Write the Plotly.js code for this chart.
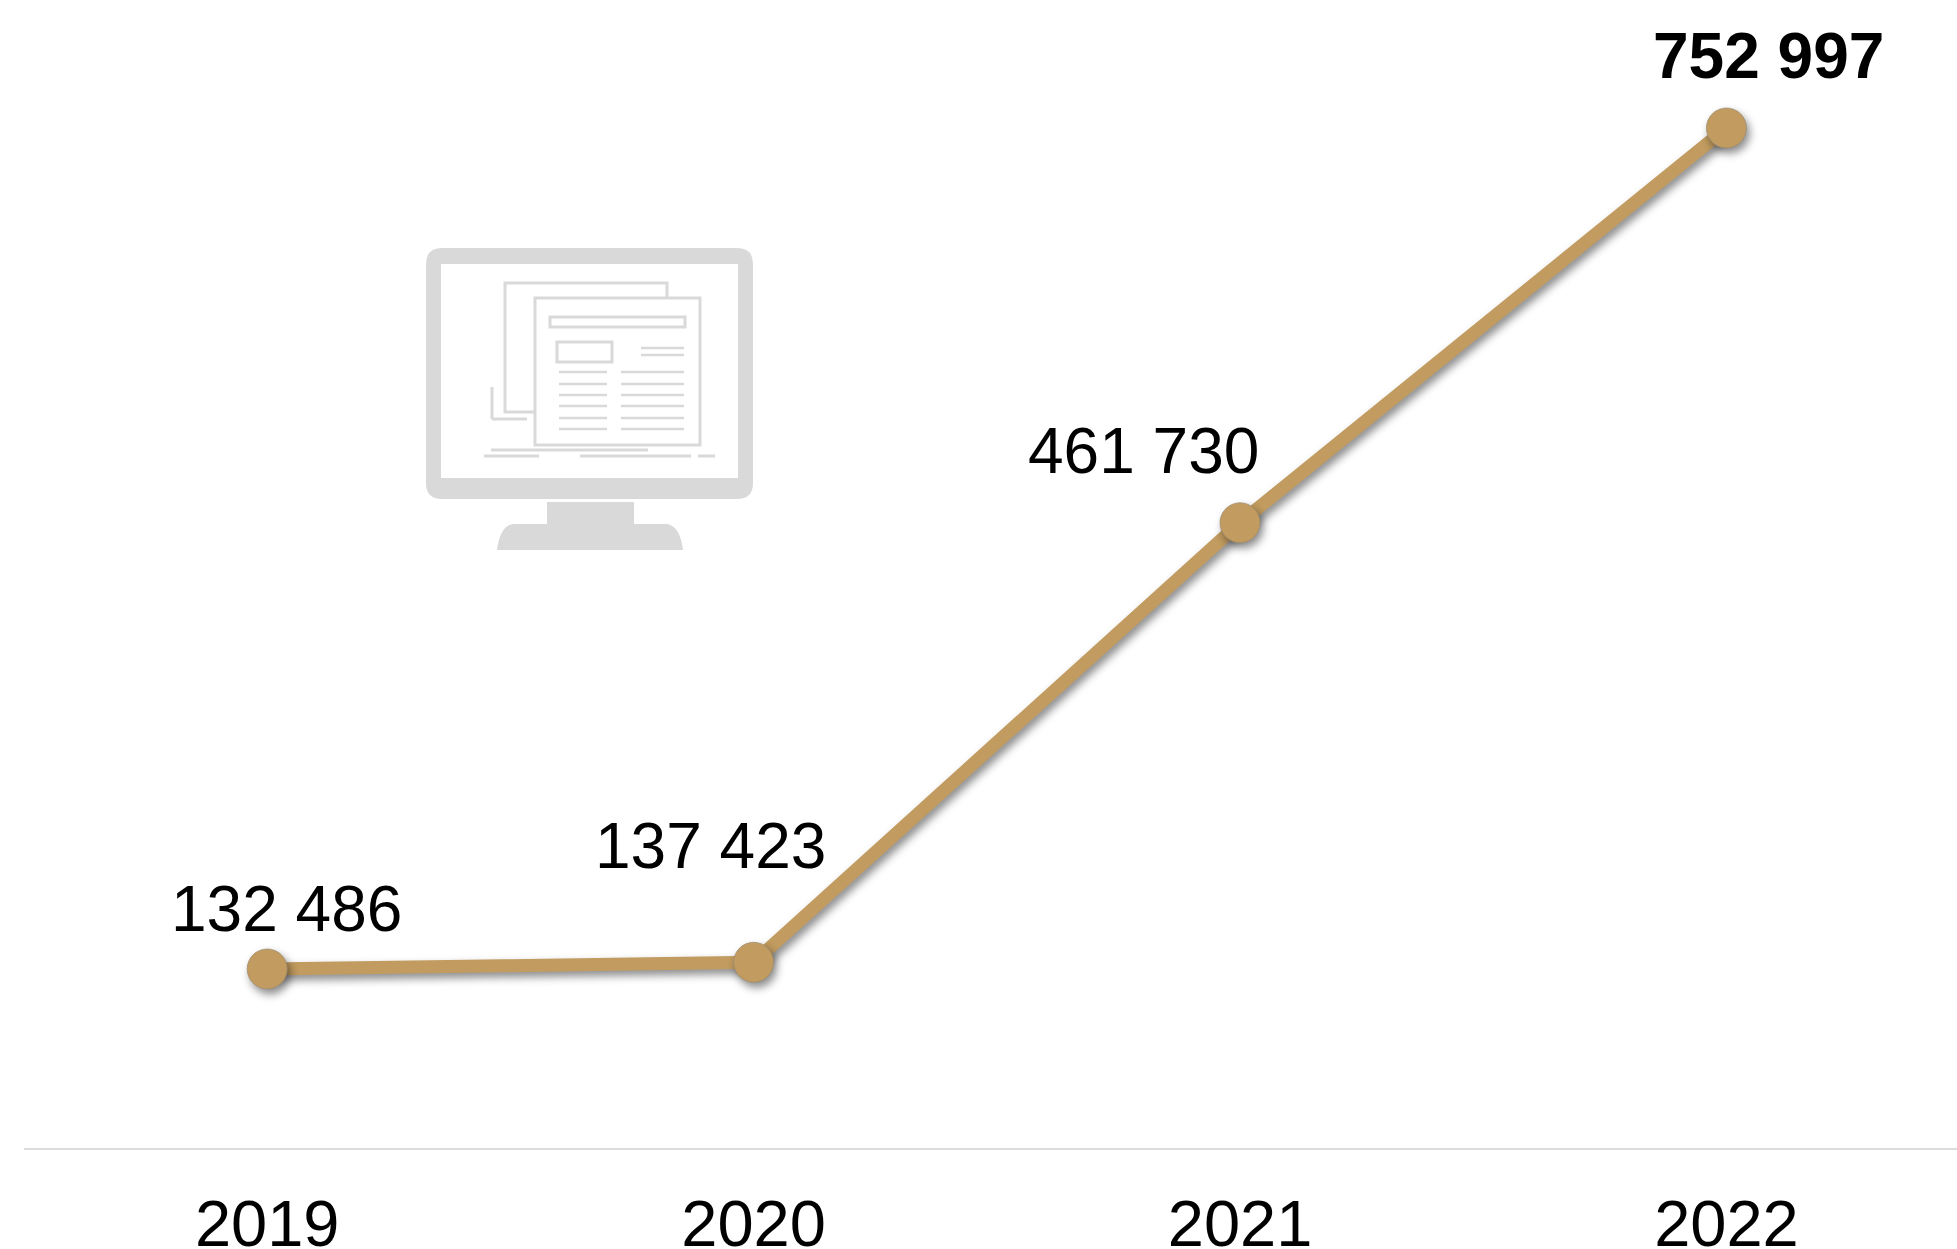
<!DOCTYPE html>
<html>
<head>
<meta charset="utf-8">
<script src="https://cdn.plot.ly/plotly-3.0.1.min.js"></script>
<style>html,body{margin:0;padding:0;background:#fff;overflow:hidden}</style>
</head>
<body>
<div id="chart" style="width:1957px;height:1249px"></div>
<script>
const years = ['2019', '2020', '2021', '2022'];
const visits = [132486, 137423, 461730, 752997];
const labelWeights = ['normal', 'normal', 'normal', 'bold'];
const labelShiftX = [19, -43, -97, 42];
const labelShiftY = [60, 116, 72, 72];

const W = 1957, H = 1249, L = 24, PB = 1148;
const GOLD = '#c19b5f', ICON = '#d9d9d9';
const fmt = v => String(v).replace(/\B(?=(\d{3})+$)/g, ' ');
const px = x => (x - L) / (W - L);
const py = y => 1 - y / PB;

function rect(x0, y0, x1, y1, fill, stroke, lw) {
  return {type:'rect', xref:'paper', yref:'paper', layer:'below',
    x0:px(x0), x1:px(x1), y0:py(y0), y1:py(y1),
    fillcolor:fill, line:{color:stroke||'rgba(0,0,0,0)', width:lw||0}};
}
function seg(x0, y0, x1, y1, lw) {
  return {type:'line', xref:'paper', yref:'paper', layer:'below',
    x0:px(x0), x1:px(x1), y0:py(y0), y1:py(y1),
    line:{color:ICON, width:lw||2.5}};
}
function pathOf(cmds, fill) {
  const d = cmds.map(c => c[0] + c.slice(1).map((v,i) => i%2===0 ? px(v) : py(v)).join(' ')).join(' ');
  return {type:'path', xref:'paper', yref:'paper', layer:'below', path:d, fillcolor:fill, line:{width:0}};
}
const shapes = [
  pathOf([['M',442,248],['L',737,248],['Q',753,248,753,264],['L',753,483],['Q',753,499,737,499],
          ['L',442,499],['Q',426,499,426,483],['L',426,264],['Q',426,248,442,248],['Z']], ICON),
  rect(441,264,738,478,'#ffffff'),
  rect(547,502,634,526,ICON),
  pathOf([['M',513,524],['L',667,524],['Q',680,526,683,550],['L',497,550],['Q',500,526,513,524],['Z']], ICON),
  rect(505,283,667,412,'#ffffff',ICON,3),
  seg(492,387,492,419,3), seg(492,419,527,419,3),
  rect(535,298,700,445,'#ffffff',ICON,3),
  rect(550,317,685,327,'#ffffff',ICON,3),
  rect(557,342,612,362,'#ffffff',ICON,3),
  seg(641,348,684,348), seg(641,355,684,355),
  seg(491,450,648,450,3), seg(484,456,539,456,3), seg(580,456,691,456,3), seg(698,456,715,456,3)
];
[372,384,395,406,418,429].forEach(y => { shapes.push(seg(559,y,607,y)); shapes.push(seg(621,y,684,y)); });

const annotations = years.map((yr,i) => ({
  x: i, y: visits[i], xref:'x', yref:'y',
  text: fmt(visits[i]), showarrow:false,
  xshift: labelShiftX[i], yshift: labelShiftY[i],
  xanchor:'center', yanchor:'middle',
  font:{family:'"Liberation Sans", Arial, sans-serif', size:64, color:'#000000', weight:labelWeights[i]}
}));

Plotly.newPlot('chart', [{
  type:'scatter', mode:'lines+markers', x:years, y:visits, cliponaxis:false,
  line:{color:GOLD, width:13},
  marker:{color:GOLD, size:40, line:{color:'#9a8a70', width:0.7}},
  hoverinfo:'skip'
}], {
  width:W, height:H, showlegend:false,
  paper_bgcolor:'#ffffff', plot_bgcolor:'#ffffff',
  margin:{l:L, r:0, t:0, b:H-PB, pad:0},
  xaxis:{type:'category', range:[-0.5, 3.474], showgrid:false, zeroline:false,
    showline:true, linecolor:'#dcdcdc', linewidth:2, ticks:'', ticklabelstandoff:18,
    tickfont:{family:'"Liberation Sans", Arial, sans-serif', size:65, color:'#000000'}},
  yaxis:{range:[400, 847440], visible:false, fixedrange:true},
  shapes, annotations
}, {displayModeBar:false, staticPlot:true}).then(() => {
  document.querySelectorAll('.scatterlayer .trace .js-line, .scatterlayer .trace .points').forEach(el => {
    el.style.filter = 'drop-shadow(3px 5px 4px rgba(0,0,0,0.45))';
  });
});
</script>
</body>
</html>
